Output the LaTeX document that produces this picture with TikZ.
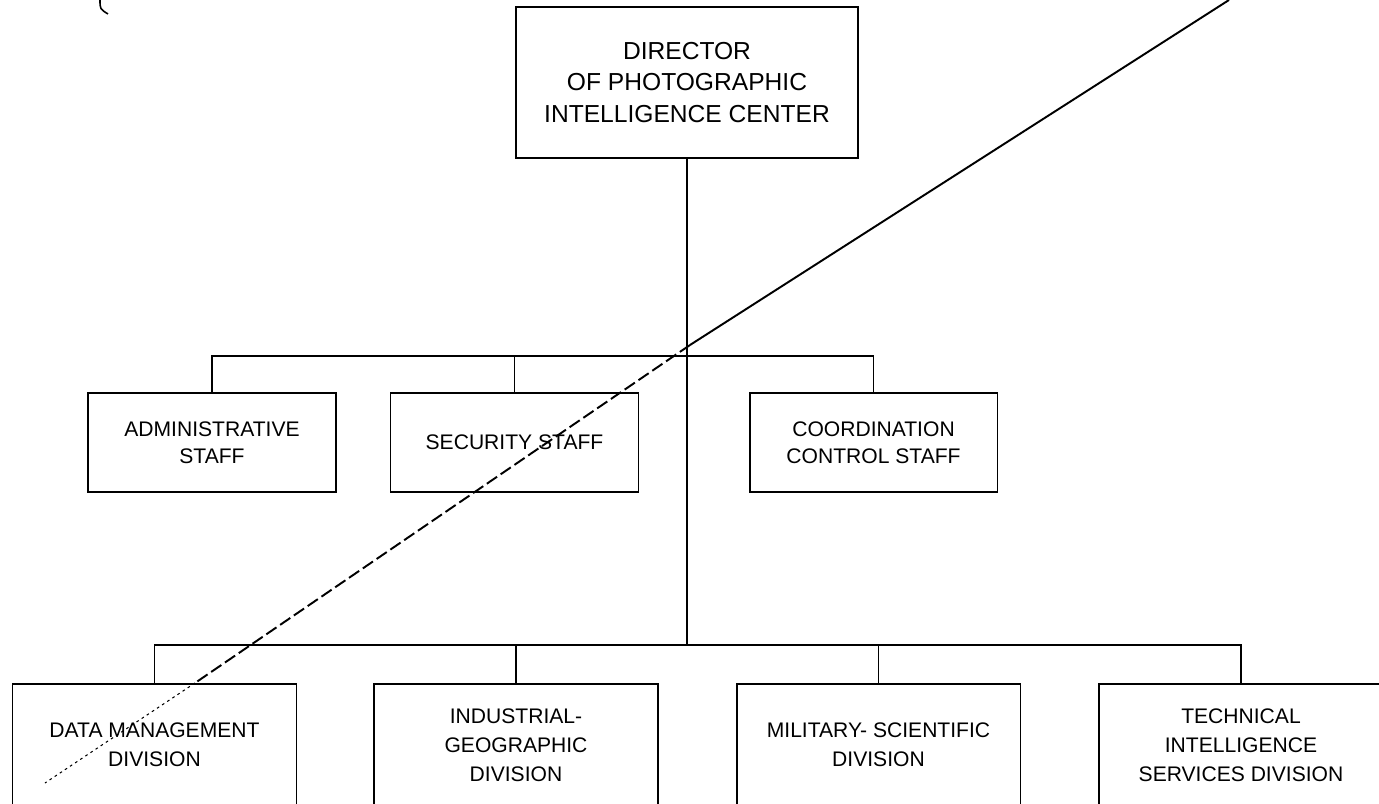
\documentclass[tikz,border=0pt]{standalone}
\usepackage{fontspec}
\setmainfont{Liberation Sans}

\begin{document}
\begin{tikzpicture}[x=0.02cm,y=-0.02cm,line width=1.1pt,
    orgbox/.style={draw,inner sep=0pt,align=center},
    topbox/.style={orgbox,minimum width=6.84cm,minimum height=3.02cm,font=\fontsize{14}{18}\selectfont},
    staffbox/.style={orgbox,minimum width=4.96cm,minimum height=1.98cm,font=\fontsize{12}{15.5}\selectfont},
    divbox/.style={orgbox,minimum width=5.68cm,minimum height=2.44cm,font=\fontsize{12}{16.5}\selectfont}]
	\useasboundingbox (0,0) rectangle (1379,804);
	\clip (0,0) rectangle (1379,804);

	\node[topbox] (director) at (687,82.5) {DIRECTOR\\OF PHOTOGRAPHIC\\INTELLIGENCE CENTER};

	\node[staffbox] (admin) at (212,442.5) {ADMINISTRATIVE\\STAFF};
	\node[staffbox] (security) at (514.5,442.5) {SECURITY STAFF};
	\node[staffbox] (coord) at (873.5,442.5) {COORDINATION\\CONTROL STAFF};

	\node[divbox] (datamgmt) at (154.5,745) {DATA MANAGEMENT\\DIVISION};
	\node[divbox] (indgeo) at (516,745) {INDUSTRIAL-\\GEOGRAPHIC\\DIVISION};
	\node[divbox] (milsci) at (878.5,745) {MILITARY- SCIENTIFIC\\DIVISION};
	\node[divbox] (techint) at (1241,745) {TECHNICAL\\INTELLIGENCE\\SERVICES DIVISION};

	\coordinate (staffbus) at (687,356);
	\coordinate (divbus) at (687,645);

	\draw (director.south) -- (divbus);
	\draw (admin.north) |- (staffbus) -| (coord.north);
	\draw (security.north) -- (security.north |- staffbus);
	\draw (datamgmt.north) |- (divbus) -| (techint.north);
	\draw (indgeo.north) -- (indgeo.north |- divbus);
	\draw (milsci.north) -- (milsci.north |- divbus);

	% pencil stroke across the chart
	\coordinate (slashtop) at (1229,0);
	\coordinate (slashmid) at (690,345);
	\coordinate (slashlow) at (195,683);
	\coordinate (slashend) at (45,783);
	\draw (slashtop) -- (slashmid);
	\draw[dash pattern=on 7pt off 2.5pt] (slashmid) -- (slashlow);
	\draw[line width=0.6pt,dash pattern=on 1.5pt off 2pt] (slashlow) -- (slashend);
	\draw[line width=0.9pt] (100,0) .. controls (100,9) .. (108,14);
\end{tikzpicture}
\end{document}
